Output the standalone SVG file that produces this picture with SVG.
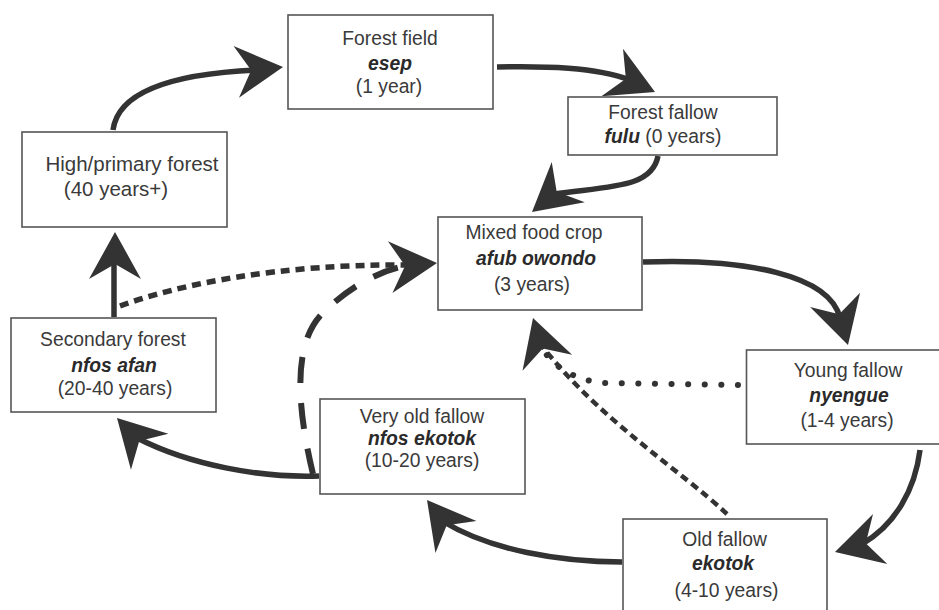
<svg xmlns="http://www.w3.org/2000/svg" xmlns:xlink="http://www.w3.org/1999/xlink" width="939" height="610" viewBox="0 0 939 610">
<style>
.box{fill:#fff;stroke:#555;stroke-width:1.6}
.t{font-family:"Liberation Sans",Arial,sans-serif;font-size:19.3px;fill:#3a3a3a;text-anchor:middle}
.i{font-style:italic;font-weight:bold;fill:#2a2a2a}
.c{fill:none;stroke:#333;stroke-width:5.5}
.dot{stroke-dasharray:9 6}
.rd{stroke-linecap:round;stroke-dasharray:0.1 16.5;stroke-width:6}
.ld{stroke-dasharray:26 20;stroke-width:6}
.sd{stroke-dasharray:8 5;stroke-width:4.5}
.h{fill:#333}
</style>
<defs>
<path id="ah" class="h" d="M0,0 L-47,-26 L-32,0 L-47,26 Z"/>
</defs>
<rect width="939" height="610" fill="#fff"/>
<g id="connectors">
<path class="c" d="M113,130 C118,92 170,74 256,70"/>
<use xlink:href="#ah" transform="translate(283,67) rotate(-6)"/>
<path class="c" d="M497,67 C545,66 595,67 630,80"/>
<use xlink:href="#ah" transform="translate(655,92) rotate(24.5)"/>
<path class="c" d="M658,156 C652,188 610,186 554,194"/>
<use xlink:href="#ah" transform="translate(532,212) rotate(140.5)"/>
<path class="c" d="M114,317 L114,258"/>
<use xlink:href="#ah" transform="translate(115,232) rotate(-90)"/>
<path class="c dot" d="M120,306 C180,284 280,264 405,265"/>
<path class="c ld" d="M313,474 C300,420 290,350 320,316 C345,290 375,272 405,266"/>
<use xlink:href="#ah" transform="translate(437,263) rotate(-5)"/>
<path class="c" d="M319,476 C260,478 190,465 137,438"/>
<use xlink:href="#ah" transform="translate(117,418) rotate(-134)"/>
<path class="c" d="M643,262 C745,258 830,275 840,318"/>
<use xlink:href="#ah" transform="translate(848,345) rotate(74)"/>
<path class="c rd" d="M738,385 L605,383 C575,381 550,365 542,347"/>
<path class="c sd" d="M727,514 C680,470 600,420 542,346"/>
<use xlink:href="#ah" transform="translate(533,318) rotate(-107.7)"/>
<path class="c" d="M920,450 C915,490 895,525 862,544"/>
<use xlink:href="#ah" transform="translate(835,552) rotate(164)"/>
<path class="c" d="M622,562 C560,562 490,550 444,522"/>
<use xlink:href="#ah" transform="translate(427,500) rotate(-128)"/>
</g>
<g id="forest-field">
<rect class="box" x="288" y="15" width="205" height="94"/>
<text class="t" x="390" y="45">Forest field</text>
<text class="t i" x="390" y="70">esep</text>
<text class="t" x="389" y="93">(1 year)</text>
</g>
<g id="forest-fallow">
<rect class="box" x="568" y="97" width="209" height="58"/>
<text class="t" x="663" y="119">Forest fallow</text>
<text class="t" x="663" y="143"><tspan class="i">fulu</tspan> (0 years)</text>
</g>
<g id="high-primary-forest">
<rect class="box" x="22" y="132" width="205" height="95"/>
<text class="t" x="132" y="171" style="font-size:20.5px">High/primary forest</text>
<text class="t" x="116" y="196" style="font-size:20.5px">(40 years+)</text>
</g>
<g id="mixed-food-crop">
<rect class="box" x="438" y="217" width="204" height="93"/>
<text class="t" x="534" y="239">Mixed food crop</text>
<text class="t i" x="536" y="265">afub owondo</text>
<text class="t" x="532" y="291">(3 years)</text>
</g>
<g id="secondary-forest">
<rect class="box" x="11" y="318" width="205" height="94"/>
<text class="t" x="113" y="346">Secondary forest</text>
<text class="t i" x="114" y="372">nfos afan</text>
<text class="t" x="115" y="395">(20-40 years)</text>
</g>
<g id="young-fallow">
<rect class="box" x="746.5" y="350" width="205" height="94"/>
<text class="t" x="848" y="377">Young fallow</text>
<text class="t i" x="849" y="402">nyengue</text>
<text class="t" x="847" y="427">(1-4 years)</text>
</g>
<g id="very-old-fallow">
<rect class="box" x="320" y="399" width="205" height="95"/>
<text class="t" x="422" y="423">Very old fallow</text>
<text class="t i" x="422" y="445">nfos ekotok</text>
<text class="t" x="422" y="467">(10-20 years)</text>
</g>
<g id="old-fallow">
<rect class="box" x="623" y="519" width="204" height="96"/>
<text class="t" x="724.5" y="546">Old fallow</text>
<text class="t i" x="723" y="570">ekotok</text>
<text class="t" x="726.5" y="597">(4-10 years)</text>
</g>
</svg>
